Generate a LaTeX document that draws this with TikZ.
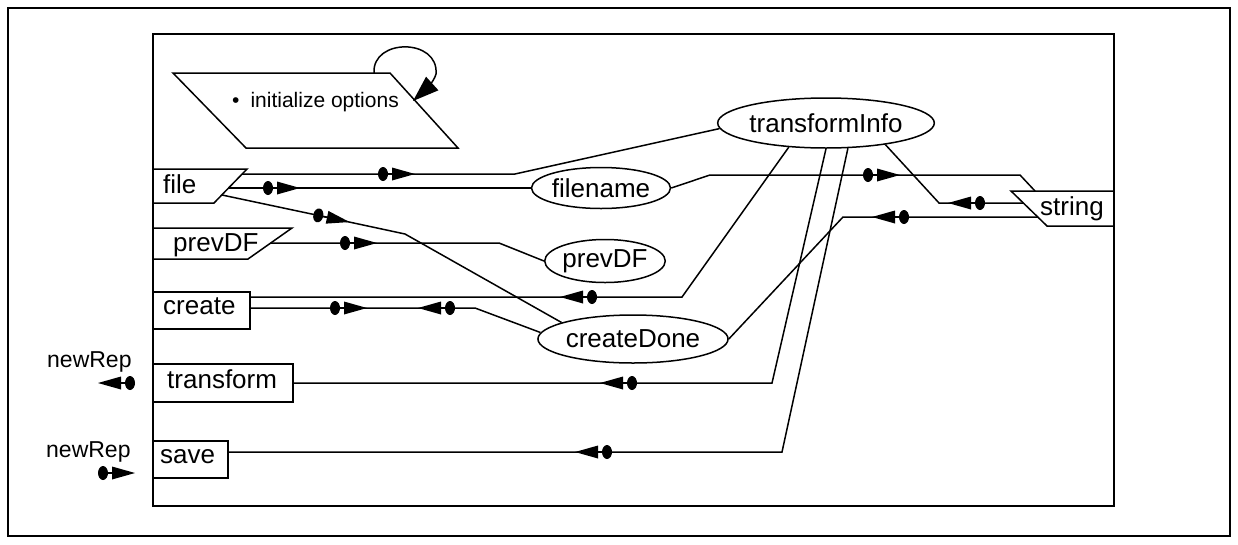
\documentclass[tikz,border=0pt]{standalone}
\usepackage{fontspec}
\setmainfont{Liberation Sans}
\usetikzlibrary{arrows.meta,shapes.geometric,calc}
\tikzset{
  line/.style={line width=1.5pt},
  frame/.style={line width=1.8pt},
  big/.style={font=\fontsize{26}{30}\selectfont},
  mid/.style={font=\fontsize{23}{27}\selectfont, inner sep=0pt},
  small/.style={font=\fontsize{21}{25}\selectfont, inner sep=0pt},
  lbl/.style={big, inner sep=0pt},
  ell/.style={draw, ellipse, line width=1.5pt, inner sep=0pt, big},
  box/.style={draw, rectangle, line width=1.5pt, inner sep=0pt},
  fwd/.pic={
    \fill (-12,0) ellipse [x radius=5, y radius=7];
    \draw[line width=1.5pt] (-12,0) -- (-3,0);
    \fill (-3,-6.5) -- (20,0) -- (-3,6.5) -- cycle;
  },
  bwd/.pic={
    \fill (12,0) ellipse [x radius=5, y radius=7];
    \draw[line width=1.5pt] (12,0) -- (3,0);
    \fill (3,-6.5) -- (-20,0) -- (3,6.5) -- cycle;
  },
}
\begin{document}
\begin{tikzpicture}[x=1pt,y=-1pt]
\useasboundingbox (0,0) rectangle (1238,544);
\draw[frame] (8,8) rectangle (1230,536);
\draw[frame] (153,34) rectangle (1114,506);

% option block with its self loop
\coordinate (optTL) at (173,73);
\coordinate (optTR) at (390,73);
\coordinate (optBR) at (458,148);
\coordinate (optBL) at (246,148);
\draw[line] (optTL) -- (optTR) -- (optBR) -- (optBL) -- cycle;
\node[small, anchor=base west] (opt) at (232,107) {•\hspace{11pt}initialize options};
\coordinate (loopA) at (374,73);
\coordinate (loopB) at (413,101);
\draw[line, -{Triangle[length=26pt,width=18pt]}] (loopA) .. controls (372,38) and (439,38) .. (436,74)
  .. controls (434,82) and (424,91) .. (loopB);

% input ports
\draw[line] (153,169) -- (247,169) -- (214,203) -- (153,203) -- cycle;
\node[lbl, anchor=base west] (file) at (163,193) {file};
\coordinate (fileO1) at (242,174);
\coordinate (fileO2) at (228,188);
\coordinate (fileO3) at (222,195);

\draw[line] (153,228) -- (292,228) -- (248,259) -- (153,259) -- cycle;
\node[lbl, anchor=base west] (prevIn) at (173,251) {prevDF};
\coordinate (prevO) at (271,243);

\node[box, minimum width=97pt, minimum height=37pt] (create) at (201.5,310.5) {};
\node[lbl, anchor=base west] (createT) at (163,314) {create};
\node[box, minimum width=140pt, minimum height=38pt] (transform) at (223,383) {};
\node[lbl, anchor=base west] (transformT) at (167,388) {transform};
\node[box, minimum width=75pt, minimum height=37pt] (save) at (190.5,459.5) {};
\node[lbl, anchor=base west] (saveT) at (160,463) {save};

% output port
\draw[line] (1011,191) -- (1114,191) -- (1114,226) -- (1047,226) -- cycle;
\node[lbl, anchor=base west] (string) at (1040,215) {string};
\coordinate (strIn1) at (1035,191);
\coordinate (strIn2) at (1023,203);
\coordinate (strIn3) at (1038,217);

% states
\node[ell, minimum width=190pt, minimum height=50pt] (tInfo) at (826,123) {transformInfo};
\node[ell, minimum width=112pt, minimum height=41pt] (fname) at (601,188) {filename};
\node[ell, minimum width=116pt, minimum height=43pt] (pdf) at (605,261) {prevDF};
\node[ell, minimum width=171pt, minimum height=48pt] (cdone) at (633,339) {createDone};

% connections
\draw[line] (fileO1) -- (395,174) pic{fwd} -- (515,174) -- (tInfo.183);
\draw[line] (fileO2) -- (280,188) pic{fwd} -- (fname.west);
\draw[line] (fileO3) -- (330,217.9) pic[rotate=-12]{fwd} -- (405,234) -- (cdone.167);
\draw[line] (prevO) -- (357,243) pic{fwd} -- (499,243) -- (pdf.west);
\draw[line] ([yshift=13.5pt]create.east) -- (580,297) pic{bwd} -- (682,297) -- (tInfo.213);
\draw[line] ([yshift=2.5pt]create.east) -- (347,308) pic{fwd} -- (438,308) pic{bwd} -- (475,308) -- (cdone.176);
\draw[line] (cdone.east) -- (843,217) -- (892,217) pic{bwd} -- (strIn3);
\draw[line] (fname.east) -- (710,175) -- (880,175) pic{fwd} -- (1020,175) -- (strIn1);
\draw[line] (tInfo.340) -- (939,203) -- (968,203) pic{bwd} -- (strIn2);
\draw[line] (tInfo.south) -- (772,383) -- (620,383) pic{bwd} -- (transform.east);
\draw[line] (tInfo.-49) -- (782,452) -- (595,452) pic{bwd} -- ([yshift=7.5pt]save.east);

% external representation ports
\node[mid, anchor=base west] (repOut) at (47,367) {newRep};
\pic at (118,383) {bwd};
\node[mid, anchor=base west] (repIn) at (46,457) {newRep};
\pic at (115,473) {fwd};
\end{tikzpicture}
\end{document}
